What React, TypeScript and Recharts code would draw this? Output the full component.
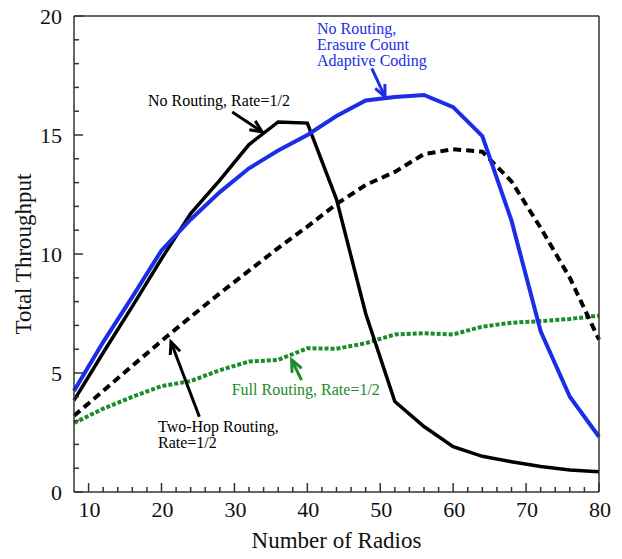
import { LineChart, Line, XAxis, YAxis, ReferenceLine, ReferenceDot, Label } from 'recharts'

// number of radios
const radios = [8, 12, 16, 20, 24, 28, 32, 36, 40, 44, 48, 52, 56, 60, 64, 68, 72, 76, 80]
// total throughput per scheme
const noRoutingHalf = [3.85, 5.85, 7.8, 9.8, 11.7, 13.1, 14.6, 15.55, 15.5, 12.3, 7.5, 3.8, 2.75, 1.9, 1.5, 1.27, 1.07, 0.92, 0.85]
const noRoutingAdaptive = [4.25, 6.3, 8.2, 10.15, 11.45, 12.6, 13.6, 14.35, 15.0, 15.8, 16.45, 16.6, 16.68, 16.17, 14.95, 11.4, 6.75, 4.0, 2.32]
const twoHopHalf = [3.2, 4.25, 5.3, 6.35, 7.36, 8.35, 9.3, 10.25, 11.15, 12.1, 12.9, 13.45, 14.2, 14.4, 14.3, 13.05, 11.1, 9.0, 6.4]
const fullRoutingHalf = [2.9, 3.5, 4.0, 4.45, 4.66, 5.12, 5.48, 5.55, 6.04, 6.02, 6.25, 6.62, 6.67, 6.62, 6.95, 7.11, 7.18, 7.27, 7.41]

const xTicks = [10, 12, 14, 16, 18, 20, 22, 24, 26, 28, 30, 32, 34, 36, 38, 40, 42, 44, 46, 48, 50, 52, 54, 56, 58, 60, 62, 64, 66, 68, 70, 72, 74, 76, 78, 80]
const yTicks = [0, 1, 2, 3, 4, 5, 6, 7, 8, 9, 10, 11, 12, 13, 14, 15, 16, 17, 18, 19, 20]

const data = radios.map((r, i) => ({
  radios: r,
  noRouting: noRoutingHalf[i],
  adaptive: noRoutingAdaptive[i],
  twoHop: twoHopHalf[i],
  full: fullRoutingHalf[i],
}))

const BLUE = '#1a2ee8'
const GREEN = '#1a8c2a'
const AXIS = '#333'
const FONT = '"Liberation Serif", "DejaVu Serif", serif'

// annotation arrows (tail -> head) and text anchors, in data units
const arrows = [
  { from: { x: 29.7, y: 15.97 }, to: { x: 33.8, y: 15.13 }, color: '#000' },
  { from: { x: 48.84, y: 17.8 }, to: { x: 50.66, y: 16.6 }, color: BLUE },
  { from: { x: 25.19, y: 3.16 }, to: { x: 21.3, y: 6.3 }, color: '#000' },
  { from: { x: 39.2, y: 4.7 }, to: { x: 37.85, y: 5.55 }, color: GREEN },
]
const notes = [
  { x: 18.15, y: 16.22, lines: ['No Routing, Rate=1/2'], color: '#000' },
  { x: 41.33, y: 19.24, lines: ['No Routing,', 'Erasure Count', 'Adaptive Coding'], color: BLUE },
  { x: 19.52, y: 2.53, lines: ['Two-Hop Routing,', 'Rate=1/2'], color: '#000' },
  { x: 29.63, y: 4.08, lines: ['Full Routing, Rate=1/2'], color: GREEN },
]

const ArrowShape = (color: string) => (p: any) => {
  const { x1, y1, x2, y2 } = p
  const a = Math.atan2(y2 - y1, x2 - x1)
  const L = 13
  const s = 0.42
  const ax = x2 - L * Math.cos(a - s)
  const ay = y2 - L * Math.sin(a - s)
  const bx = x2 - L * Math.cos(a + s)
  const by = y2 - L * Math.sin(a + s)
  return (
    <g>
      <line x1={x1} y1={y1} x2={x2} y2={y2} stroke={color} strokeWidth={3} />
      <path d={`M${ax},${ay} L${x2},${y2} L${bx},${by}`} fill="none" stroke={color} strokeWidth={3} />
    </g>
  )
}

const NoteShape = (lines: string[], color: string) => (p: any) => (
  <text x={p.cx} y={p.cy} fill={color} fontSize={16} fontFamily={FONT}>
    {lines.map((l, i) => (
      <tspan key={i} x={p.cx} dy={i === 0 ? 0 : 16}>{l}</tspan>
    ))}
  </text>
)

const XTick = (p: any) => {
  const v = p.payload.value
  const major = v % 10 === 0
  return (
    <g>
      <line x1={p.x} y1={p.y} x2={p.x} y2={p.y - (major ? 9 : 5)} stroke={AXIS} strokeWidth={1.5} />
      {major && (
        <text x={p.x + 1} y={p.y + 25} textAnchor="middle" fontSize={22} fontFamily={FONT} fill="#111">{v}</text>
      )}
    </g>
  )
}

const YTickLeft = (p: any) => {
  const v = p.payload.value
  const major = v % 5 === 0
  return (
    <g>
      <line x1={p.x} y1={p.y} x2={p.x + (major ? 9 : 5)} y2={p.y} stroke={AXIS} strokeWidth={1.5} />
      {major && (
        <text x={p.x - 12} y={p.y + 8} textAnchor="end" fontSize={22} fontFamily={FONT} fill="#111">{v}</text>
      )}
    </g>
  )
}

const YTickRight = (p: any) => {
  const major = p.payload.value % 5 === 0
  return <line x1={p.x} y1={p.y} x2={p.x - (major ? 9 : 5)} y2={p.y} stroke={AXIS} strokeWidth={1.5} />
}

export default function App() {
  return (
    <div style={{ position: 'fixed', left: 0, top: 0, background: '#fff' }}>
      <LineChart width={622} height={559} data={data} margin={{ top: 15, right: 22, bottom: 7, left: 14 }}>
        <XAxis
          dataKey="radios"
          type="number"
          domain={[8, 80]}
          ticks={xTicks}
          interval={0}
          tickLine={false}
          tickSize={0}
          tickMargin={0}
          tick={XTick}
          height={60}
          axisLine={{ stroke: AXIS, strokeWidth: 1.5 }}
        >
          <Label value="Number of Radios" position="insideBottom" offset={4} fontSize={23} fontFamily={FONT} fill="#111" />
        </XAxis>
        <XAxis xAxisId="top" orientation="top" dataKey="radios" type="number" domain={[8, 80]} height={1} tick={false} tickLine={false} axisLine={{ stroke: AXIS, strokeWidth: 1.5 }} />
        <YAxis
          type="number"
          domain={[0, 20]}
          ticks={yTicks}
          interval={0}
          tickLine={false}
          tickSize={0}
          tickMargin={0}
          tick={YTickLeft}
          width={60}
          axisLine={{ stroke: AXIS, strokeWidth: 1.5 }}
        >
          <Label value="Total Throughput" angle={-90} position="insideLeft" offset={9} fontSize={23} fontFamily={FONT} fill="#111" style={{ textAnchor: 'middle' }} />
        </YAxis>
        <YAxis
          yAxisId="right"
          orientation="right"
          type="number"
          domain={[0, 20]}
          ticks={yTicks}
          interval={0}
          tickLine={false}
          tickSize={0}
          tickMargin={0}
          tick={YTickRight}
          width={1}
          axisLine={{ stroke: AXIS, strokeWidth: 1.5 }}
        />
        <Line type="linear" dataKey="full" stroke={GREEN} strokeWidth={4} strokeDasharray="4 2" dot={false} isAnimationActive={false} />
        <Line type="linear" dataKey="twoHop" stroke="#000" strokeWidth={4} strokeDasharray="8 5" dot={false} isAnimationActive={false} />
        <Line type="linear" dataKey="noRouting" stroke="#000" strokeWidth={3.5} dot={false} isAnimationActive={false} />
        <Line type="linear" dataKey="adaptive" stroke={BLUE} strokeWidth={4} dot={false} isAnimationActive={false} />
        {arrows.map((a, i) => (
          <ReferenceLine key={`a${i}`} segment={[a.from, a.to]} shape={ArrowShape(a.color)} />
        ))}
        {notes.map((n, i) => (
          <ReferenceDot key={`n${i}`} x={n.x} y={n.y} r={0} shape={NoteShape(n.lines, n.color)} />
        ))}
      </LineChart>
    </div>
  )
}
